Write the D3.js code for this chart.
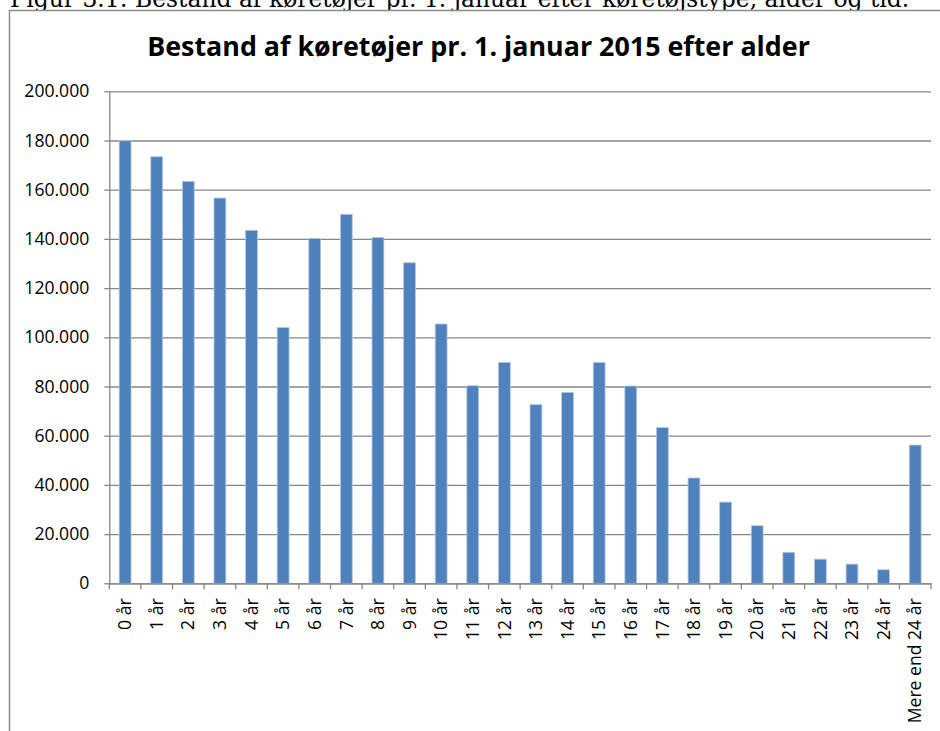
<!DOCTYPE html>
<html><head><meta charset="utf-8">
<script src="https://cdn.jsdelivr.net/npm/d3@7"></script>
<style>body{margin:0;background:#fff;} svg{display:block;}</style>
</head><body>
<svg id="c" width="940" height="731"></svg>
<script>
const categories = ["0 år","1 år","2 år","3 år","4 år","5 år","6 år","7 år","8 år","9 år","10 år","11 år","12 år","13 år","14 år","15 år","16 år","17 år","18 år","19 år","20 år","21 år","22 år","23 år","24 år","Mere end 24 år"];
const values = [179900,173400,163400,156600,143500,104000,140200,150000,140600,130300,105400,80300,89800,72600,77600,89800,80200,63300,42800,33000,23400,12600,9800,7800,5500,56200];
const yTicks = [0,20000,40000,60000,80000,100000,120000,140000,160000,180000,200000];
const titleText = "Bestand af køretøjer pr. 1. januar 2015 efter alder";
const captionText = "Figur 3.1: Bestand af køretøjer pr. 1. januar efter køretøjstype, alder og tid.";

(function () {
const svg = d3.select("#c");
const pLeft = 109.3, pRight = 931, pTop = 91.3, pBottom = 583.3;
const gridColor = "#868686";
const labelSize = 17.6;

function fitText(sel, target) {
  const w = sel.node().getComputedTextLength();
  const fs = parseFloat(sel.attr("font-size"));
  sel.attr("font-size", fs * target / w);
}

// caption (cut off at top, as in the source page)
const cap = svg.append("text").attr("x", 10).attr("y", 6.5)
  .attr("font-family", "'DejaVu Serif', serif").attr("font-size", 20)
  .attr("fill", "#000").text(captionText);
fitText(cap, 900);

// chart border
svg.append("rect").attr("x", 9.5).attr("y", 10.5).attr("width", 960).attr("height", 760)
  .attr("fill", "#fff").attr("stroke", "#8c8c8c").attr("stroke-width", 1.5);

// title
const title = svg.append("text").attr("x", 478.5).attr("y", 56).attr("text-anchor", "middle")
  .attr("font-family", "'Open Sans', sans-serif").attr("font-weight", "bold").attr("font-size", 25)
  .attr("fill", "#000").text(titleText);
fitText(title, 663);

const x = d3.scaleBand().domain(categories).range([pLeft, pRight]).paddingInner(0.6).paddingOuter(0.3);
const y = d3.scaleLinear().domain([0, 200000]).range([pBottom, pTop]);
const fmt = d3.formatLocale({decimal: ",", thousands: ".", grouping: [3], currency: ["", ""]}).format(",");

// gridlines
const grid = svg.append("g").attr("transform", `translate(${pLeft},0)`)
  .call(d3.axisLeft(y).tickValues(yTicks).tickSize(-(pRight - pLeft)).tickFormat(""));
grid.select(".domain").remove();
grid.selectAll("line").attr("stroke", gridColor).attr("stroke-width", 1.3);

// bars
svg.append("g").selectAll("rect").data(values).join("rect")
  .attr("x", (d, i) => x(categories[i]) + 0.4)
  .attr("width", x.bandwidth() - 0.8)
  .attr("y", d => y(d))
  .attr("height", d => y(0) - y(d))
  .attr("fill", "#4F81BD")
  .attr("stroke", "#b4c8e4").attr("stroke-width", 0.8);

// y axis
const ya = svg.append("g").attr("transform", `translate(${pLeft},0)`)
  .call(d3.axisLeft(y).tickValues(yTicks).tickSize(5).tickSizeOuter(0).tickPadding(15).tickFormat(fmt));
ya.select(".domain").attr("stroke", gridColor).attr("stroke-width", 1.3);
ya.selectAll("line").attr("stroke", gridColor).attr("stroke-width", 1.3);
ya.selectAll("text").attr("font-family", "'Open Sans', sans-serif").attr("font-size", labelSize).attr("fill", "#000");

// x axis
const xa = svg.append("g").attr("transform", `translate(0,${pBottom})`)
  .call(d3.axisBottom(x).tickSize(0).tickSizeOuter(0));
xa.select(".domain").attr("stroke", gridColor).attr("stroke-width", 1.3);
xa.selectAll("text")
  .attr("font-family", "'Open Sans', sans-serif").attr("font-size", labelSize).attr("fill", "#000")
  .attr("transform", "rotate(-90)").attr("x", -15).attr("y", 0).attr("dy", "0.35em")
  .style("text-anchor", "end");
// category boundary ticks
const bounds = d3.range(categories.length + 1).map(i => pLeft + i * x.step());
xa.selectAll("line.bound").data(bounds).join("line").attr("class", "bound")
  .attr("x1", d => d).attr("x2", d => d).attr("y1", 0).attr("y2", 6)
  .attr("stroke", gridColor).attr("stroke-width", 1.3);
})();
</script>
</body></html>
